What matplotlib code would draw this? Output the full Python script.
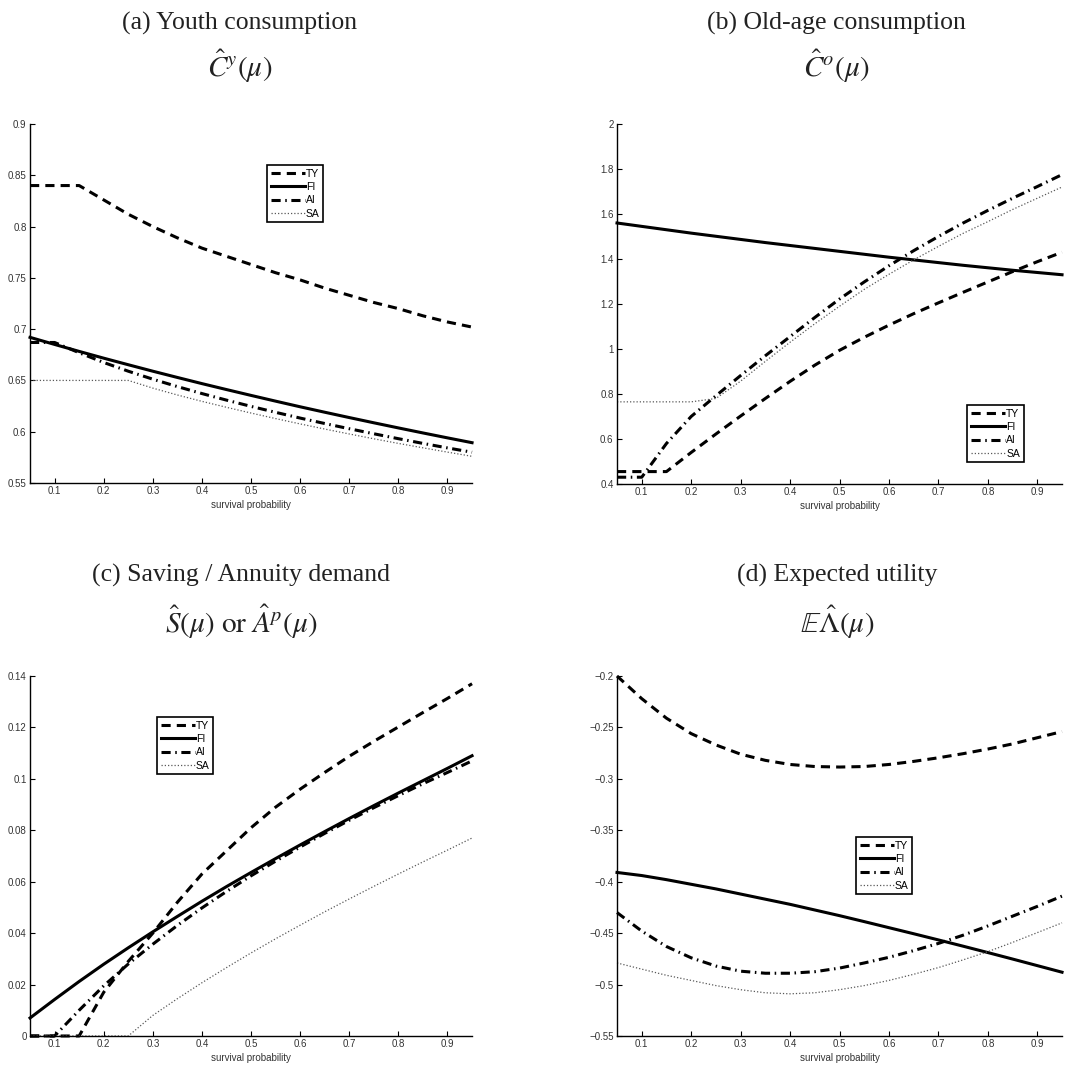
import matplotlib
matplotlib.use('Agg')
import matplotlib.pyplot as plt
import numpy as np

# survival probability grid
mu = [0.05, 0.10, 0.15, 0.20, 0.25, 0.30, 0.35, 0.40, 0.45, 0.50,
      0.55, 0.60, 0.65, 0.70, 0.75, 0.80, 0.85, 0.90, 0.95]

# (a) youth consumption
cy_ty = [0.840, 0.840, 0.840, 0.826, 0.812, 0.800, 0.789, 0.779, 0.771, 0.763,
         0.755, 0.748, 0.740, 0.733, 0.726, 0.720, 0.713, 0.707, 0.702]
cy_fi = [0.692, 0.6851, 0.6783, 0.6717, 0.6653, 0.6590, 0.6529, 0.6469, 0.6411, 0.6354,
         0.6298, 0.6243, 0.6190, 0.6138, 0.6087, 0.6037, 0.5988, 0.5940, 0.5893]
cy_ai = [0.687, 0.687, 0.677, 0.6675, 0.6590, 0.6512, 0.6440, 0.6372, 0.6308, 0.6247,
         0.6189, 0.6133, 0.6080, 0.6029, 0.5980, 0.5932, 0.5886, 0.5842, 0.5800]
cy_sa = [0.650, 0.650, 0.650, 0.650, 0.650, 0.6425, 0.6358, 0.6296, 0.6238, 0.6182,
         0.6128, 0.6076, 0.6026, 0.5978, 0.5931, 0.5886, 0.5843, 0.5801, 0.5760]

# (b) old-age consumption
co_ty = [0.455, 0.455, 0.455, 0.540, 0.622, 0.702, 0.780, 0.856, 0.928, 0.994,
         1.052, 1.106, 1.157, 1.205, 1.252, 1.298, 1.344, 1.388, 1.430]
co_fi = [1.560, 1.545, 1.530, 1.515, 1.501, 1.487, 1.473, 1.460, 1.447, 1.434,
         1.421, 1.408, 1.396, 1.384, 1.372, 1.361, 1.350, 1.340, 1.330]
co_ai = [0.430, 0.430, 0.580, 0.700, 0.792, 0.882, 0.970, 1.055, 1.140, 1.222,
         1.298, 1.370, 1.437, 1.500, 1.560, 1.616, 1.670, 1.722, 1.775]
co_sa = [0.765, 0.765, 0.765, 0.765, 0.780, 0.857, 0.945, 1.030, 1.112, 1.190,
         1.265, 1.332, 1.396, 1.456, 1.514, 1.566, 1.620, 1.670, 1.720]

# (c) saving / annuity demand
s_ty = [0.0, 0.0, 0.0, 0.017, 0.029, 0.040, 0.052, 0.063, 0.072, 0.081,
        0.089, 0.096, 0.1025, 0.1088, 0.1146, 0.1202, 0.1258, 0.1313, 0.1370]
s_fi = [0.007, 0.0142, 0.0212, 0.0279, 0.0343, 0.0405, 0.0465, 0.0524, 0.0581, 0.0636,
        0.0690, 0.0743, 0.0795, 0.0846, 0.0896, 0.0945, 0.0993, 0.1041, 0.1090]
s_ai = [0.0, 0.0, 0.010, 0.0195, 0.0280, 0.0357, 0.0430, 0.0498, 0.0562, 0.0623,
        0.0680, 0.0735, 0.0788, 0.0839, 0.0888, 0.0935, 0.0981, 0.1025, 0.1070]
s_sa = [0.0, 0.0, 0.0, 0.0, 0.0, 0.0080, 0.0145, 0.0207, 0.0266, 0.0323,
        0.0378, 0.0431, 0.0483, 0.0533, 0.0582, 0.0630, 0.0677, 0.0723, 0.0770]

# (d) expected utility
eu_ty = [-0.200, -0.222, -0.241, -0.256, -0.267, -0.276, -0.282, -0.286, -0.288, -0.2885,
         -0.288, -0.286, -0.283, -0.2795, -0.2755, -0.271, -0.266, -0.260, -0.254]
eu_fi = [-0.391, -0.394, -0.398, -0.4025, -0.407, -0.412, -0.417, -0.422, -0.4275, -0.433,
         -0.4388, -0.4447, -0.4506, -0.4566, -0.4627, -0.4689, -0.4752, -0.4816, -0.4880]
eu_ai = [-0.430, -0.448, -0.463, -0.474, -0.482, -0.487, -0.489, -0.489, -0.4875, -0.484,
         -0.479, -0.4735, -0.467, -0.460, -0.452, -0.443, -0.4335, -0.424, -0.414]
eu_sa = [-0.479, -0.485, -0.491, -0.496, -0.501, -0.505, -0.508, -0.509, -0.508, -0.505,
         -0.501, -0.496, -0.490, -0.4835, -0.476, -0.468, -0.459, -0.4495, -0.440]

labels = ['TY', 'FI', 'AI', 'SA']
xticks = [0.1, 0.2, 0.3, 0.4, 0.5, 0.6, 0.7, 0.8, 0.9]

plt.rcParams['mathtext.fontset'] = 'stix'
plt.rcParams['font.family'] = ['Liberation Sans', 'DejaVu Sans']

fig = plt.figure(figsize=(10.77, 10.70), dpi=100)

panels = [
    dict(rect=[0.0279, 0.5486, 0.4104, 0.3355], data=[cy_ty, cy_fi, cy_ai, cy_sa],
         ylim=(0.55, 0.9), yticks=np.arange(0.55, 0.901, 0.05), leg=(0.536, 0.886)),
    dict(rect=[0.5729, 0.5477, 0.4132, 0.3364], data=[co_ty, co_fi, co_ai, co_sa],
         ylim=(0.4, 2.0), yticks=np.arange(0.4, 2.001, 0.2), leg=(0.787, 0.219)),
    dict(rect=[0.0279, 0.0318, 0.4104, 0.3364], data=[s_ty, s_fi, s_ai, s_sa],
         ylim=(0.0, 0.14), yticks=np.arange(0.0, 0.1401, 0.02), leg=(0.287, 0.886)),
    dict(rect=[0.5729, 0.0318, 0.4132, 0.3364], data=[eu_ty, eu_fi, eu_ai, eu_sa],
         ylim=(-0.55, -0.2), yticks=np.arange(-0.55, -0.1999, 0.05), leg=(0.537, 0.553)),
]

def fmt(v):
    s = '%g' % round(v, 4)
    return s.replace('-', '\u2212')

for p in panels:
    ax = fig.add_axes(p['rect'])
    ty, fi, ai, sa = p['data']
    ax.plot(mu, ty, color='black', lw=2.2, dashes=(3.0, 2.0), label=labels[0], clip_on=False)
    ax.plot(mu, fi, color='black', lw=2.2, label=labels[1], clip_on=False)
    ax.plot(mu, ai, color='black', lw=2.2, dashes=(3.0, 1.5, 0.5, 1.5), label=labels[2], clip_on=False)
    ax.plot(mu, sa, color='0.35', lw=0.9, dashes=(1.0, 1.6), label=labels[3], clip_on=False)
    ax.set_xlim(0.05, 0.95)
    ax.set_ylim(*p['ylim'])
    ax.set_xticks(xticks)
    ax.set_xticklabels([fmt(v) for v in xticks])
    ax.set_yticks(p['yticks'])
    ax.set_yticklabels([fmt(v) for v in p['yticks']])
    ax.spines['top'].set_visible(False)
    ax.spines['right'].set_visible(False)
    for s in ['left', 'bottom']:
        ax.spines[s].set_linewidth(1.0)
    ax.tick_params(direction='in', length=3.5, width=0.8, labelsize=7,
                   labelcolor='#333333', pad=2.5)
    ax.set_xlabel('survival probability', fontsize=7, color='#333333', labelpad=2.5)
    leg = ax.legend(loc='upper left', bbox_to_anchor=p['leg'], borderaxespad=0,
                    fontsize=7.5, handlelength=3.3, handletextpad=0.1,
                    labelspacing=0.32, borderpad=0.35, fancybox=False,
                    framealpha=1, edgecolor='black')
    leg.get_frame().set_linewidth(1.2)

serif = ['Liberation Serif', 'DejaVu Serif']
W, H = 1077.0, 1070.0
titles = [
    (240, 23, '(a) Youth consumption', 66, r'$\hat{C}^{y}(\mu)$'),
    (836, 23, '(b) Old-age consumption', 66, r'$\hat{C}^{o}(\mu)$'),
    (241, 575, '(c) Saving / Annuity demand', 622, r'$\hat{S}(\mu)\ \mathrm{or}\ \hat{A}^{p}(\mu)$'),
    (837, 575, '(d) Expected utility', 622, r'$\mathbb{E}\hat{\Lambda}(\mu)$'),
]
for x, y1, t1, y2, t2 in titles:
    fig.text(x / W, 1 - y1 / H, t1, ha='center', va='center', fontsize=18.5,
             family=serif, color='#222222')
    fig.text(x / W, 1 - y2 / H, t2, ha='center', va='center', fontsize=21,
             color='#222222')

fig.savefig('out.png', dpi=100)
